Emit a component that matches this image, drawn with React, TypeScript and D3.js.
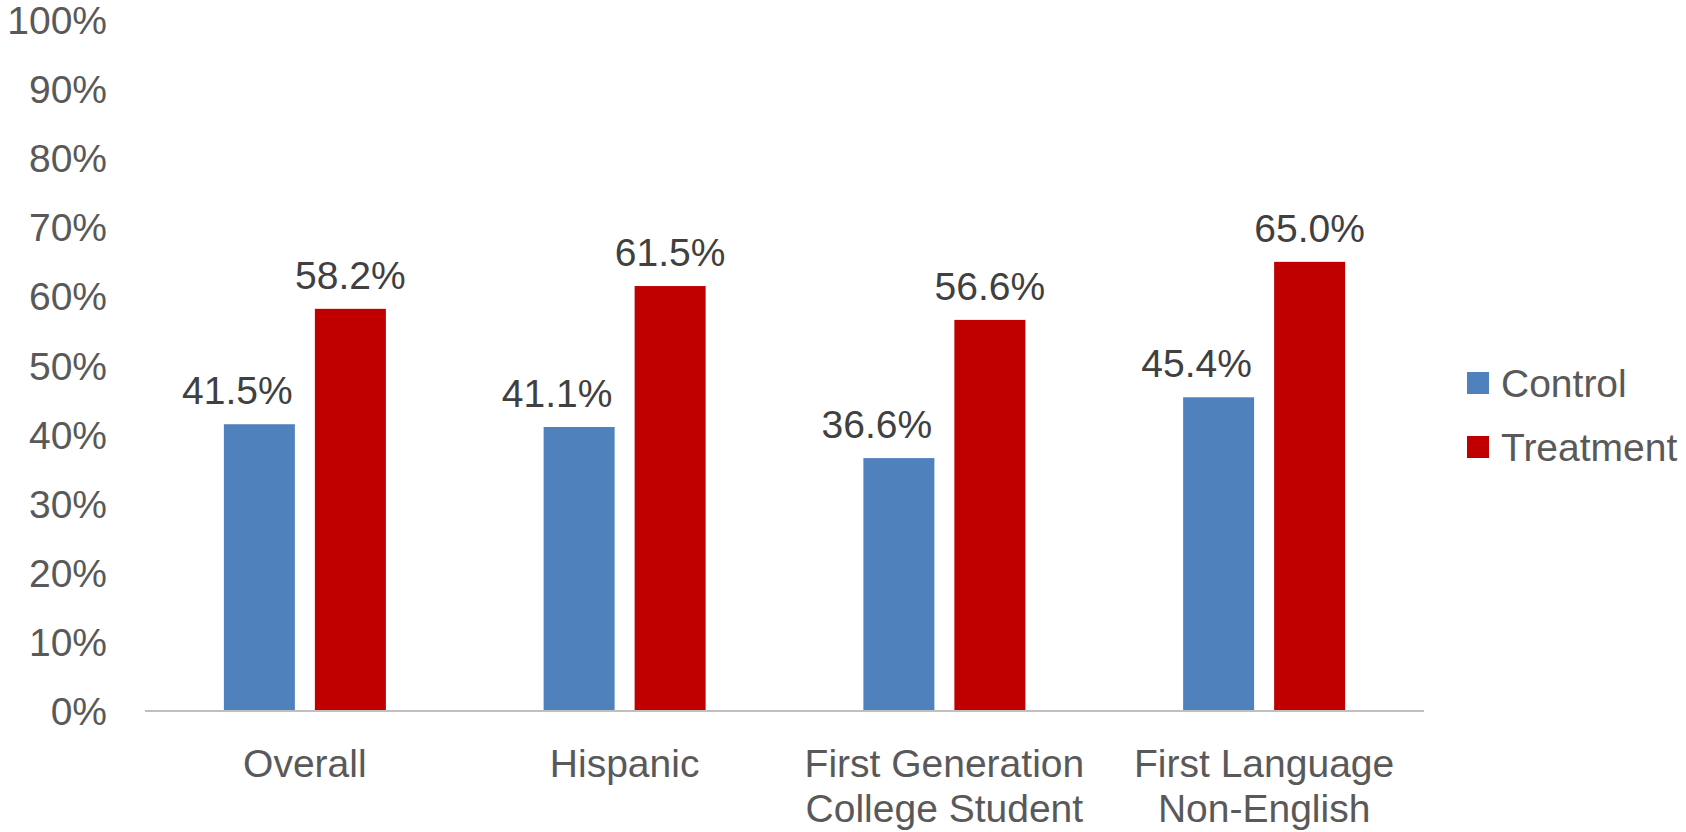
import React from "react";
import * as d3 from "d3";

const categories: string[][] = [
  ["Overall"],
  ["Hispanic"],
  ["First Generation", "College Student"],
  ["First Language", "Non-English"],
];
const seriesNames = ["Control", "Treatment"];
const controlValues = [0.415, 0.411, 0.366, 0.454];
const treatmentValues = [0.582, 0.615, 0.566, 0.65];
const yTicks = [0, 0.1, 0.2, 0.3, 0.4, 0.5, 0.6, 0.7, 0.8, 0.9, 1.0];
const colors = ["#4F81BD", "#C00000"];

const W = 1686;
const H = 832;
const FONT = "'Liberation Sans', Arial, sans-serif";

export default function App() {
  const keys = categories.map((c) => c.join(" "));
  const y = d3.scaleLinear().domain([0, 1]).range([711, 20]);
  const x0 = d3.scaleBand<string>().domain(keys).range([145, 1424]).padding(0);
  const groupW = 162;
  const x1 = d3
    .scaleBand<string>()
    .domain(seriesNames)
    .range([0, groupW])
    .paddingInner(20 / 91)
    .paddingOuter(0);
  const groupOffset = (x0.bandwidth() - groupW) / 2;
  const series = [controlValues, treatmentValues];
  const pct = d3.format(".0%");
  const pct1 = d3.format(".1%");

  return (
    <svg
      width={W}
      height={H}
      style={{ position: "fixed", left: 0, top: 0, background: "#fff" }}
      fontFamily={FONT}
    >
      {yTicks.map((t) => (
        <text
          key={t}
          x={107}
          y={y(t)}
          dy="0.36em"
          textAnchor="end"
          fontSize={39}
          fill="#595959"
        >
          {pct(t)}
        </text>
      ))}
      {keys.map((k, i) => (
        <g key={k} transform={`translate(${x0(k)! + groupOffset},0)`}>
          {seriesNames.map((s, j) => {
            const v = series[j][i];
            const bx = x1(s)!;
            const bw = x1.bandwidth();
            const labelShift = j === 0 ? -22 : 0;
            return (
              <g key={s}>
                <rect
                  x={bx}
                  y={y(v)}
                  width={bw}
                  height={y(0) - y(v)}
                  fill={colors[j]}
                />
                <text
                  x={bx + bw / 2 + labelShift}
                  y={y(v) - 20}
                  textAnchor="middle"
                  fontSize={39}
                  fill="#404040"
                >
                  {pct1(v)}
                </text>
              </g>
            );
          })}
        </g>
      ))}
      <line x1={145} x2={1424} y1={711} y2={711} stroke="#bfbfbf" strokeWidth={2} />
      {categories.map((lines, i) => (
        <text
          key={keys[i]}
          x={x0(keys[i])! + x0.bandwidth() / 2}
          y={777}
          textAnchor="middle"
          fontSize={39}
          fill="#595959"
        >
          {lines.map((l, li) => (
            <tspan key={l} x={x0(keys[i])! + x0.bandwidth() / 2} dy={li === 0 ? 0 : 45}>
              {l}
            </tspan>
          ))}
        </text>
      ))}
      {seriesNames.map((s, j) => (
        <g key={s} transform={`translate(1467,${372 + j * 64})`}>
          <rect width={22} height={22} fill={colors[j]} />
          <text x={34} y={11} dy="0.36em" fontSize={39} fill="#595959">
            {s}
          </text>
        </g>
      ))}
    </svg>
  );
}
